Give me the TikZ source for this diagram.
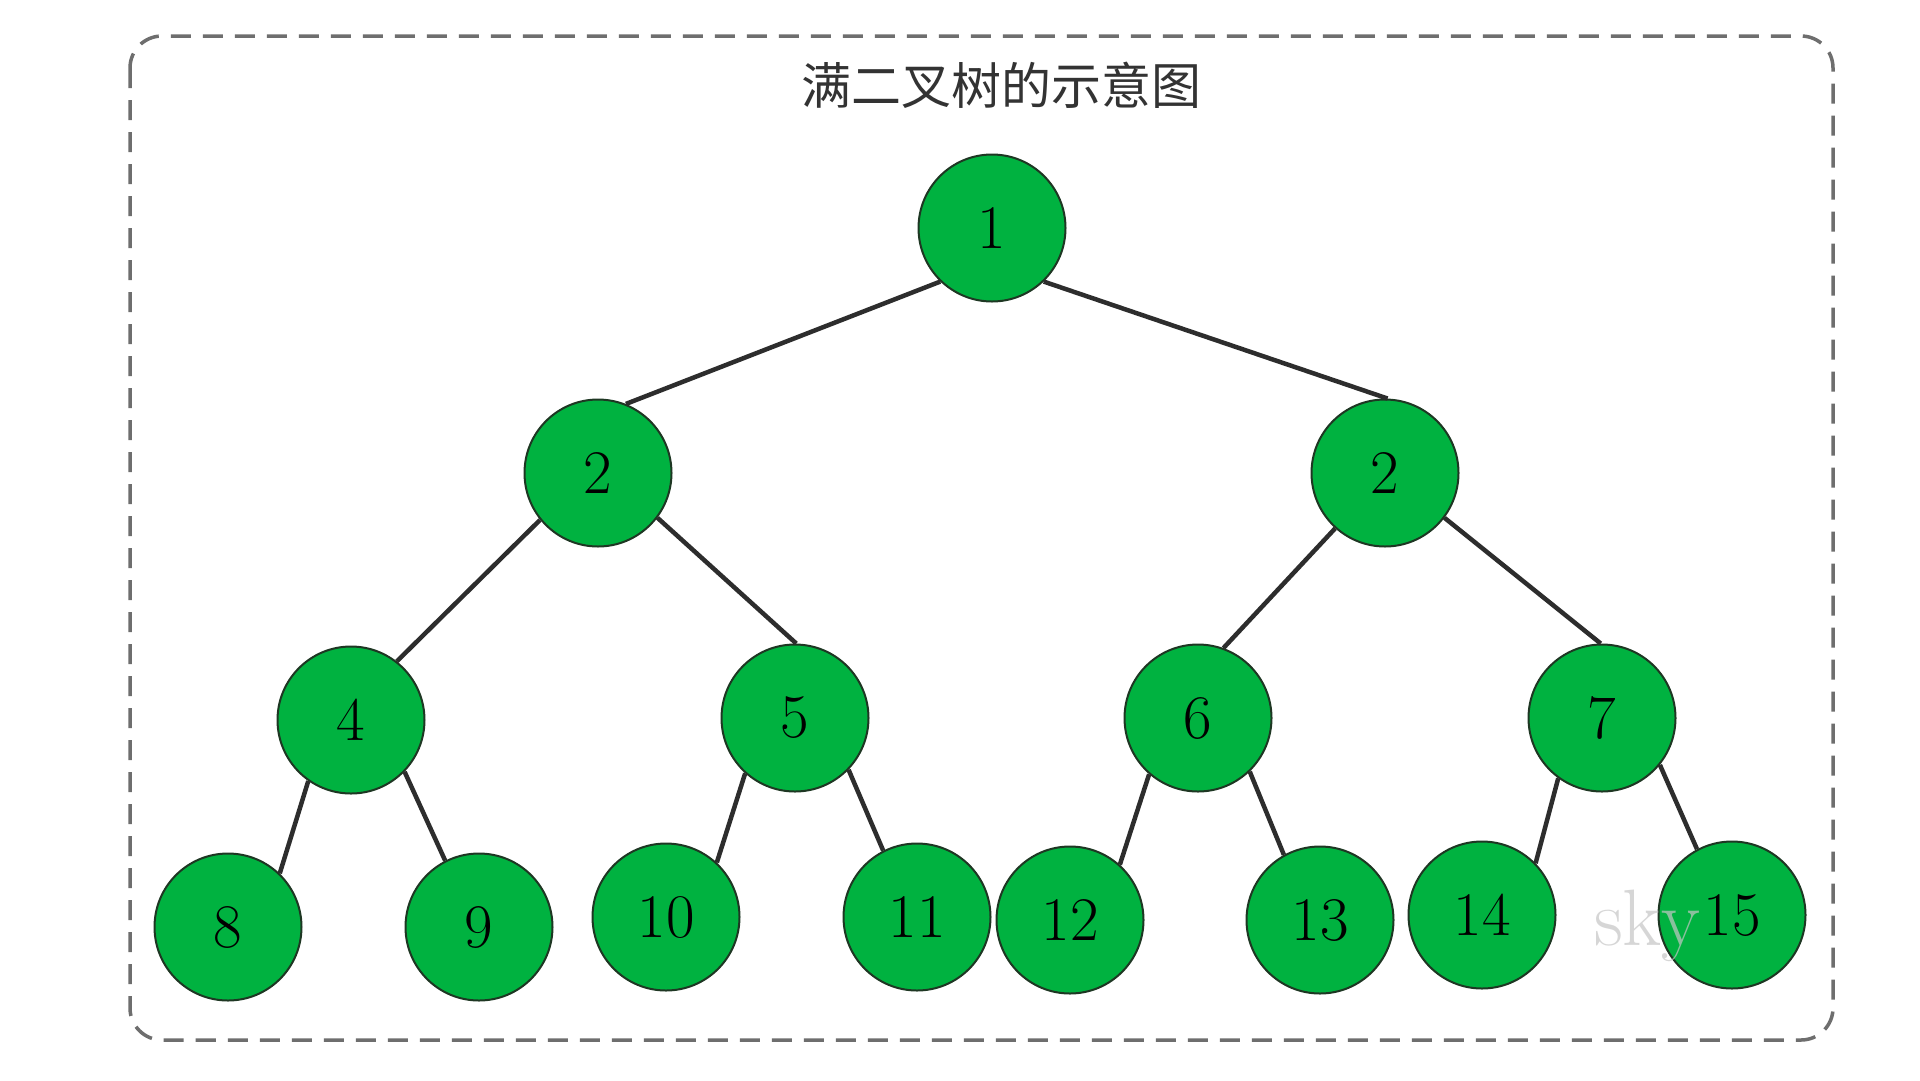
\documentclass[tikz,border=0pt]{standalone}
\usepackage{fontspec}
\newfontfamily\cjk{Noto Sans CJK SC}
\definecolor{nodegreen}{RGB}{0,178,64}
\definecolor{nodeborder}{RGB}{30,55,35}
\definecolor{edgegray}{RGB}{45,45,45}
\definecolor{boxgray}{RGB}{110,110,110}
\begin{document}
\begin{tikzpicture}[x=1pt,y=-1pt,
  tn/.style={circle, fill=nodegreen, draw=nodeborder, line width=2pt, minimum size=147pt, inner sep=0pt,
             font=\fontsize{62}{70}\selectfont, text=black},
  edge/.style={draw=edgegray, line width=4.5pt},
  boxline/.style={draw=boxgray, line width=3.5pt, dash pattern=on 20pt off 12pt, rounded corners=32pt}]
\useasboundingbox (0,0) rectangle (1920,1080);
\fill[white] (0,0) rectangle (1920,1080);
\draw[boxline] (130,36) rectangle (1833,1040);
\node[font=\cjk\fontsize{50}{58}\selectfont, text=black!80] (title) at (1001,85) {满二叉树的示意图};
% edges (drawn first, nodes cover the ends)
\path (992,228) coordinate (p1) (598,473) coordinate (p2) (1385,473) coordinate (p3)
      (351,720) coordinate (p4) (795,718) coordinate (p5) (1198,718) coordinate (p6) (1602,718) coordinate (p7);
% nodes
\node[tn] (n1) at (992,228) {1};
\node[tn] (n2) at (598,473) {2};
\node[tn] (n3) at (1385,473) {2};
\node[tn] (n4) at (351,720) {4};
\node[tn] (n5) at (795,718) {5};
\node[tn] (n6) at (1198,718) {6};
\node[tn] (n7) at (1602,718) {7};
\node[tn] (n8) at (228,927) {8};
\node[tn] (n9) at (479,927) {9};
\node[tn] (n10) at (666,917) {10};
\node[tn] (n11) at (917,917) {11};
\node[tn] (n12) at (1070,920) {12};
\node[tn] (n13) at (1320,920) {13};
\node[tn] (n14) at (1482,915) {14};
\node[tn] (n15) at (1732,915) {15};
% edges
\draw[edge] (n1.226) -- (n2.68);
\draw[edge] (n1.314) -- (n3.88);
\draw[edge] (n2.219) -- (n4.52);
\draw[edge] (n2.323) -- (n5.89);
\draw[edge] (n3.228) -- (n6.70);
\draw[edge] (n3.323) -- (n7.91);
\draw[edge] (n4.235) -- (n8.46);
\draw[edge] (n4.316) -- (n9.117);
\draw[edge] (n5.228) -- (n10.47);
\draw[edge] (n5.316) -- (n11.117);
\draw[edge] (n6.229) -- (n12.48);
\draw[edge] (n6.314) -- (n13.119);
\draw[edge] (n7.234) -- (n14.44);
\draw[edge] (n7.321) -- (n15.118);
% watermark
\node[anchor=base west, inner sep=0pt, font=\fontsize{80}{90}\selectfont, text=gray!45, opacity=0.7] (wm) at (1594,945) {sky};
\end{tikzpicture}
\end{document}
